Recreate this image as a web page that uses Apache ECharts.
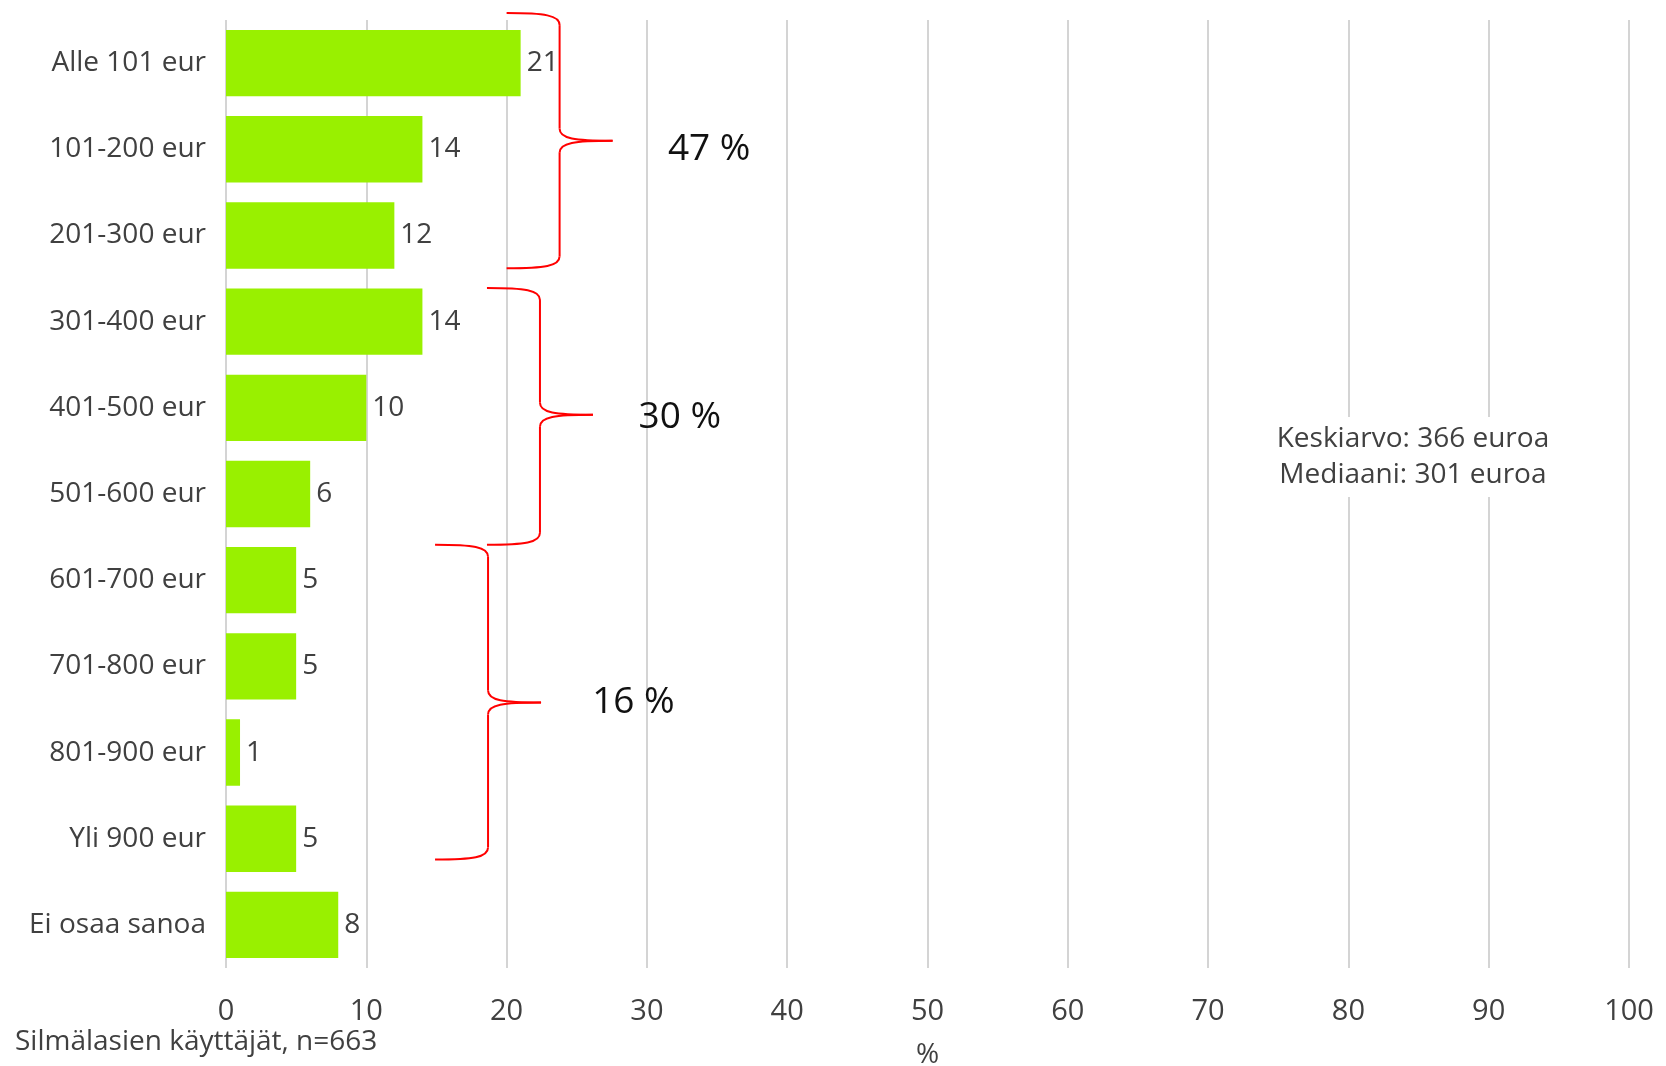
<!DOCTYPE html>
<html>
<head>
<meta charset="utf-8">
<style>
    html, body { margin: 0; padding: 0; background: #fff; }
    #chart { width: 1666px; height: 1066px; }
</style>
<script src="https://cdn.jsdelivr.net/npm/echarts@6/dist/echarts.min.js"></script>
</head>
<body>
<div id="chart"></div>
<script>
    // data
    var categories = ['Alle 101 eur', '101-200 eur', '201-300 eur', '301-400 eur', '401-500 eur',
        '501-600 eur', '601-700 eur', '701-800 eur', '801-900 eur', 'Yli 900 eur', 'Ei osaa sanoa'];
    var values = [21, 14, 12, 14, 10, 6, 5, 5, 1, 5, 8];
    var xMin = 0, xMax = 100, xStep = 10;

    // brace groups (category index range, x value of the brace ends, label)
    var groupLabels = ['47 %', '30 %', '16 %'];
    var groupFrom = [-0.58, 2.61, 5.59];
    var groupTo = [2.38, 5.59, 9.24];
    var groupTip = [0.9, 4.08, 7.42];
    var groupX = [20.0, 18.6, 14.9];
    var labelAt = [1.0, 4.11, 7.42];
    var labelX = [31.5, 29.4, 26.1];

    var statLines = ['Keskiarvo: 366 euroa', 'Mediaani: 301 euroa'];
    var footNote = 'Silmälasien käyttäjät, n=663';

    var font = '"Open Sans", "Noto Sans", sans-serif';
    var txt = '#404040';

    var myChart = echarts.init(document.getElementById('chart'));
    var option = {
        animation: false,
        grid: {left: 226, right: 37, top: 20, bottom: 98, containLabel: false, outerBoundsMode: 'none'},
        xAxis: {
            type: 'value',
            min: xMin, max: xMax, interval: xStep,
            name: '%',
            nameLocation: 'middle',
            nameGap: 73,
            nameTextStyle: {color: txt, fontSize: 28, fontFamily: font},
            axisLine: {show: false},
            axisTick: {show: false},
            axisLabel: {color: txt, fontSize: 29, fontFamily: font, margin: 29},
            splitLine: {lineStyle: {color: '#d4d4d4', width: 2}}
        },
        yAxis: {
            type: 'category',
            inverse: true,
            data: categories,
            axisLine: {show: false},
            axisTick: {show: false},
            axisLabel: {color: txt, fontSize: 28, fontFamily: font, margin: 20}
        },
        series: [{
            type: 'bar',
            data: values,
            barCategoryGap: '23%',
            itemStyle: {color: '#99f000'},
            label: {
                show: true,
                position: 'right',
                distance: 6,
                color: txt,
                fontSize: 28,
                fontFamily: font
            }
        }]
    };
    myChart.setOption(option);

    // pixel helpers from the axes
    function px(v) { return myChart.convertToPixel({xAxisIndex: 0}, v); }
    function py(k) {
        var a = myChart.convertToPixel({yAxisIndex: 0}, 0);
        var b = myChart.convertToPixel({yAxisIndex: 0}, 1);
        return a + (b - a) * k;
    }

    var red = {stroke: '#ff0000', lineWidth: 2, fill: null};
    var graphics = [];
    for (var i = 0; i < groupLabels.length; i++) {
        var x0 = px(groupX[i]);
        var xv = x0 + 53;
        var xt = xv + 53;
        var y0 = py(groupFrom[i]);
        var y1 = py(groupTo[i]);
        var yt = py(groupTip[i]);
        var h = 12;
        // top hook, upper arm, tip, lower arm, bottom hook
        graphics.push({type: 'bezierCurve', shape: {x1: x0, y1: y0, cpx1: x0 + 38, cpy1: y0, cpx2: xv, cpy2: y0 + 2, x2: xv, y2: y0 + h}, style: red});
        graphics.push({type: 'line', shape: {x1: xv, y1: y0 + h, x2: xv, y2: yt - h}, style: red});
        graphics.push({type: 'bezierCurve', shape: {x1: xv, y1: yt - h, cpx1: xv, cpy1: yt - 2, cpx2: xv + 15, cpy2: yt, x2: xt, y2: yt}, style: red});
        graphics.push({type: 'bezierCurve', shape: {x1: xt, y1: yt, cpx1: xv + 15, cpy1: yt, cpx2: xv, cpy2: yt + 2, x2: xv, y2: yt + h}, style: red});
        graphics.push({type: 'line', shape: {x1: xv, y1: yt + h, x2: xv, y2: y1 - h}, style: red});
        graphics.push({type: 'bezierCurve', shape: {x1: xv, y1: y1 - h, cpx1: xv, cpy1: y1 - 2, cpx2: x0 + 38, cpy2: y1, x2: x0, y2: y1}, style: red});
        graphics.push({
            type: 'text', x: px(labelX[i]), y: py(labelAt[i]),
            style: {text: groupLabels[i], fill: '#111', fontSize: 37, fontFamily: font, textVerticalAlign: 'middle', verticalAlign: 'middle'}
        });
    }

    // mean / median box
    var sx = px(84.6), sy = py(4.57);
    graphics.push({type: 'rect', shape: {x: sx - 150, y: sy - 40, width: 300, height: 80}, style: {fill: '#fff'}});
    graphics.push({
        type: 'text', x: sx, y: sy,
        style: {text: statLines.join('\n'), fill: txt, fontSize: 28, fontFamily: font, lineHeight: 36,
            align: 'center', textAlign: 'center', verticalAlign: 'middle', textVerticalAlign: 'middle'}
    });

    graphics.push({
        type: 'text', left: 15, top: 1028,
        style: {text: footNote, fill: txt, fontSize: 28, fontFamily: font}
    });

    myChart.setOption({graphic: graphics});
</script>
</body>
</html>
